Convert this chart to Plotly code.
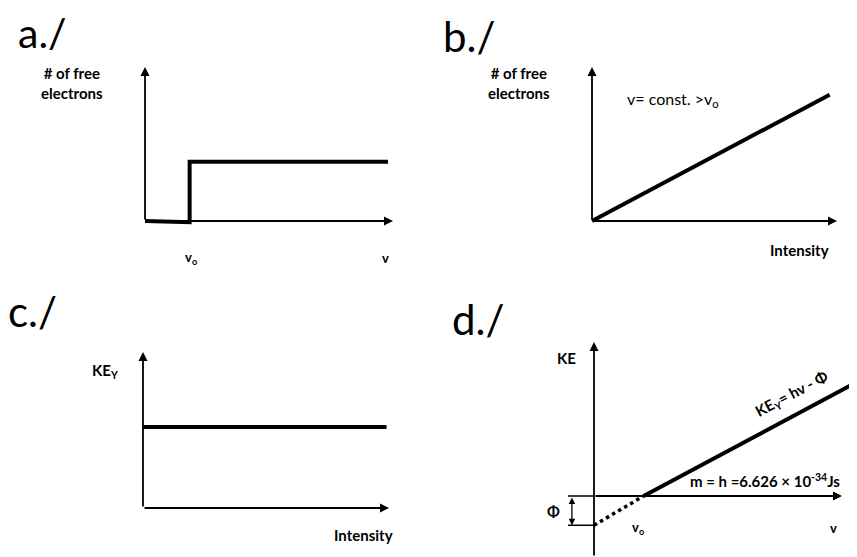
import plotly.graph_objects as go

# the page body has an 8px margin, so the figure is shrunk and shifted by it
OFF = 8
W, H = 857 - OFF, 557 - OFF

# a./ free electrons vs frequency (step at threshold v0)
freq_a = [0, 1.8, 1.8, 9.8]
elec_a = [0, -0.08, 3.85, 3.85]

# b./ free electrons vs intensity (v = const > v0)
inten_b = [0, 9.7]
elec_b = [0, 8.2]

# c./ kinetic energy vs intensity
inten_c = [0, 9.9]
ke_c = [5.2, 5.2]

# d./ kinetic energy vs frequency
freq_d = [2.0, 10.6]
ke_d = [0, 7.4]
freq_dot = [0, 2.0]
ke_dot = [-1.9, 0]
phi = 1.9

# panel geometry: origin pixel, px per unit, x range, y range
panels = {
    "a": dict(o=(145, 221), s=(24.8, 15.4), xr=(-0.5, 10.5), yr=(-0.5, 10.5)),
    "b": dict(o=(592, 221), s=(24.5, 15.4), xr=(-0.5, 10.5), yr=(-0.5, 10.5)),
    "c": dict(o=(143, 508), s=(24.6, 15.6), xr=(-0.5, 10.5), yr=(-0.5, 10.5)),
    "d": dict(o=(594, 496), s=(24.8, 15.4), xr=(-1.98, 10.6), yr=(-3.96, 10.5)),
}
axis_ids = {"a": "", "b": "2", "c": "3", "d": "4"}

fig = go.Figure()
layout = {}
for k, p in panels.items():
    ox, oy = p["o"][0] - OFF, p["o"][1] - OFF
    sx, sy = p["s"]
    n = axis_ids[k]
    xd = [(ox + p["xr"][0] * sx) / W, (ox + p["xr"][1] * sx) / W]
    yd = [(H - (oy - p["yr"][0] * sy)) / H, (H - (oy - p["yr"][1] * sy)) / H]
    xd = [max(0, min(1, v)) for v in xd]
    yd = [max(0, min(1, v)) for v in yd]
    layout["xaxis" + n] = dict(domain=xd, range=list(p["xr"]), visible=False, anchor="y" + n)
    layout["yaxis" + n] = dict(domain=yd, range=list(p["yr"]), visible=False, anchor="x" + n)

thick = dict(color="black", width=4)
fig.add_trace(go.Scatter(x=freq_a, y=elec_a, mode="lines", line=thick, xaxis="x", yaxis="y"))
fig.add_trace(go.Scatter(x=inten_b, y=elec_b, mode="lines", line=thick, xaxis="x2", yaxis="y2"))
fig.add_trace(go.Scatter(x=inten_c, y=ke_c, mode="lines", line=thick, xaxis="x3", yaxis="y3"))
fig.add_trace(go.Scatter(x=freq_d, y=ke_d, mode="lines", line=thick, xaxis="x4", yaxis="y4"))
fig.add_trace(go.Scatter(x=freq_dot, y=ke_dot, mode="lines",
                         line=dict(color="black", width=3.5, dash="dot"), xaxis="x4", yaxis="y4"))
# phi bracket ticks
for yv in [0, -phi]:
    fig.add_trace(go.Scatter(x=[-1.05, 0], y=[yv, yv], mode="lines",
                             line=dict(color="black", width=1.5), xaxis="x4", yaxis="y4"))

ann = []


def arrow(n, x0, y0, x1, y1, side="end", w=1.8):
    ann.append(dict(x=x1, y=y1, ax=x0, ay=y0, xref="x" + n, yref="y" + n,
                    axref="x" + n, ayref="y" + n, text="", showarrow=True,
                    arrowhead=2, arrowsize=1, arrowwidth=w, arrowcolor="black",
                    arrowside=side, startarrowhead=2, startarrowsize=1, standoff=0))


for n in ["", "2", "3"]:
    arrow(n, 0, 0, 10, 0)
    arrow(n, 0, 0, 0, 10)
arrow("4", 0, 0, 10, 0)
arrow("4", 0, -3.96, 0, 10)
arrow("4", -0.89, 0, -0.89, -phi, side="end+start", w=1.3)


def label(txt, px, py, size=15, bold=True, xanchor="center", angle=0, fam="Lato"):
    ann.append(dict(x=(px - OFF) / W, y=1 - (py - OFF) / H, xref="paper", yref="paper",
                    text=("<b>%s</b>" % txt) if bold else txt, showarrow=False,
                    xanchor=xanchor, yanchor="middle", textangle=angle, borderpad=0,
                    font=dict(family=fam, size=size, color="black")))


# big panel letters
label("a./", 17, 33, size=41, bold=False, xanchor="left")
label("b./", 442, 36, size=42, bold=False, xanchor="left")
label("c./", 7, 311, size=42, bold=False, xanchor="left")
label("d./", 451, 319, size=42, bold=False, xanchor="left")

# a./
label("# of free<br>electrons", 72, 83)
label("v<sub>o</sub>", 191, 258, size=13)
label("v", 385, 258, size=13)
# b./
label("# of free<br>electrons", 519, 83)
label("v= const. >v<sub>o</sub>", 626, 99, size=16, bold=False, xanchor="left")
label("Intensity", 799, 250)
# c./
label("KE<sub>Y</sub>", 105, 371)
label("Intensity", 363, 535)
# d./
label("KE", 566, 358)
label("Φ", 553, 511, size=15)
label("v<sub>o</sub>", 638, 528, size=13)
label("v", 833, 528, size=13)
label("m = h =6.626 × 10<sup>-34</sup>Js", 689, 480, xanchor="left")
label("KE<sub>Y</sub>= hv - Φ", 792, 394, angle=-28)

fig.update_layout(
    width=W, height=H,
    margin=dict(l=0, r=0, t=0, b=0),
    plot_bgcolor="white", paper_bgcolor="white",
    showlegend=False,
    annotations=ann,
    **layout
)
fig.write_html("out.html")
